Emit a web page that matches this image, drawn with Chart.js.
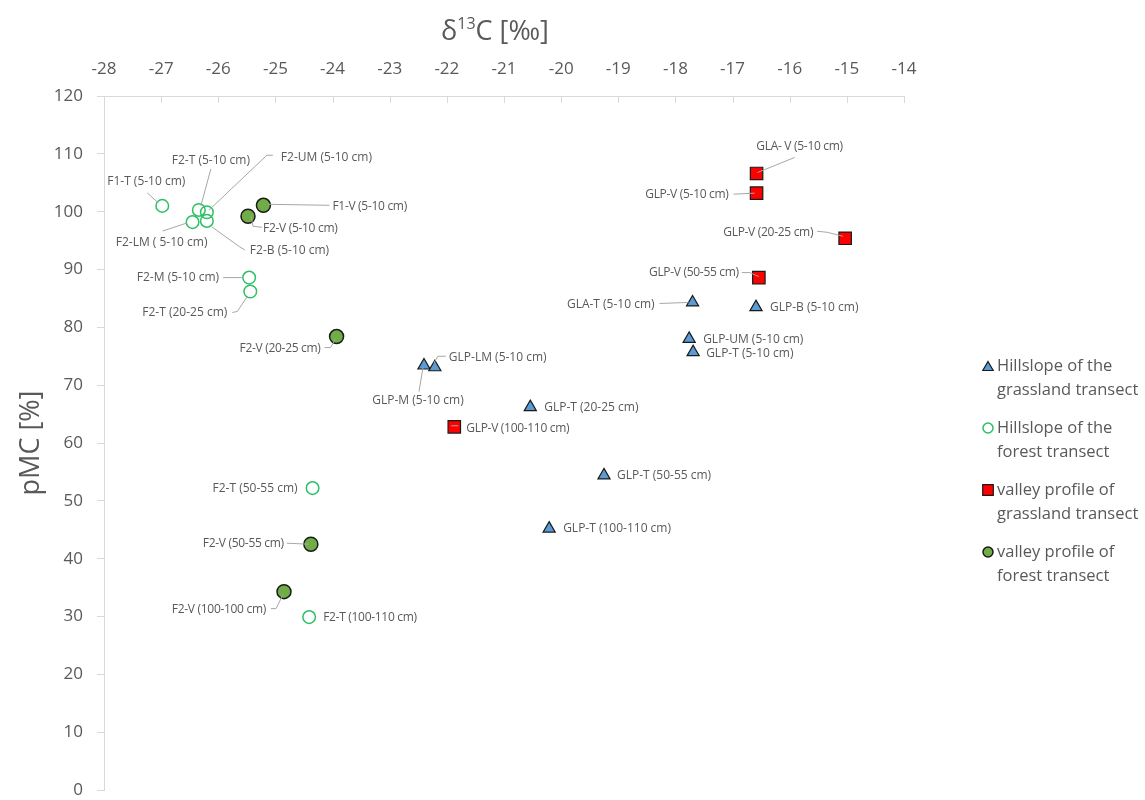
<!DOCTYPE html>
<html>
<head>
<meta charset="utf-8">
<script src="https://cdn.jsdelivr.net/npm/chart.js@4.4.1/dist/chart.umd.min.js"></script>
<style>
  html, body { margin: 0; padding: 0; background: #fff; }
  #wrap { width: 1145px; height: 800px; position: relative; }
</style>
</head>
<body>
<div id="wrap"><canvas id="isoChart"></canvas></div>
<script>
// x = delta13C [permil], y = pMC [%]

// Hillslope of the grassland transect
const glHillNames = ["GLP-M (5-10 cm)", "GLP-LM (5-10 cm)", "GLP-T (20-25 cm)", "GLP-T (50-55 cm)", "GLP-T (100-110 cm)",
  "GLA-T (5-10 cm)", "GLP-B (5-10 cm)", "GLP-UM (5-10 cm)", "GLP-T (5-10 cm)"];
const glHillD13C = [-22.40, -22.21, -20.54, -19.25, -20.21, -17.70, -16.59, -17.76, -17.69];
const glHillPMC = [73.4, 73.1, 66.2, 54.4, 45.2, 84.3, 83.5, 78.0, 75.7];

// Hillslope of the forest transect
const fHillNames = ["F1-T (5-10 cm)", "F2-T (5-10 cm)", "F2-UM (5-10 cm)", "F2-LM ( 5-10 cm)", "F2-B (5-10 cm)",
  "F2-M (5-10 cm)", "F2-T (20-25 cm)", "F2-T (50-55 cm)", "F2-T (100-110 cm)"];
const fHillD13C = [-26.98, -26.34, -26.20, -26.45, -26.20, -25.46, -25.44, -24.35, -24.41];
const fHillPMC = [101.0, 100.3, 99.9, 98.2, 98.4, 88.6, 86.2, 52.2, 29.9];

// valley profile of grassland transect
const glValleyNames = ["GLA- V (5-10 cm)", "GLP-V (5-10 cm)", "GLP-V (20-25 cm)", "GLP-V (50-55 cm)", "GLP-V (100-110 cm)"];
const glValleyD13C = [-16.58, -16.58, -15.03, -16.54, -21.87];
const glValleyPMC = [106.6, 103.2, 95.4, 88.6, 62.8];

// valley profile of forest transect
const fValleyNames = ["F1-V (5-10 cm)", "F2-V (5-10 cm)", "F2-V (20-25 cm)", "F2-V (50-55 cm)", "F2-V (100-100 cm)"];
const fValleyD13C = [-25.21, -25.48, -23.93, -24.38, -24.85];
const fValleyPMC = [101.1, 99.2, 78.4, 42.5, 34.3];

const xTicks = [-28, -27, -26, -25, -24, -23, -22, -21, -20, -19, -18, -17, -16, -15, -14];
const yTicks = [0, 10, 20, 30, 40, 50, 60, 70, 80, 90, 100, 110, 120];

// label placement in px relative to the point: [dx, dy, align, leader line points, condensed]
const glHillPlace = [
  [-6, 35, "center", [[-5, 26], [-1, 2]]],
  [14, -10, "left", [[11, -11], [3, -11], [-1, -4]]],
  [14, 0, "left"],
  [13, 0, "left"],
  [14, 0, "left"],
  [-38, 2, "right", [[-33, 1], [-4, 0]]],
  [14, 0, "left"],
  [14, 1, "left"],
  [13, 1, "left"]
];
const fHillPlace = [
  [-16, -24, "center", [[-15, -13], [-4, -3]]],
  [12, -49, "center", [[12, -41], [2, -4]]],
  [74, -55, "left", [[66, -57], [60, -57], [2, -2]]],
  [-31, 21, "center", [[-30, 9], [-6, 1]]],
  [43, 30, "left", [[38, 29], [33, 26], [5, 6]]],
  [-30, 0, "right", [[-26, 0], [-6, 0]]],
  [-23, 21, "right", [[-18, 21], [-13, 20], [-3, 5]]],
  [-15, 0, "right"],
  [14, 0, "left", null, true]
];
const glValleyPlace = [
  [43, -27, "center", [[38, -16], [1, -1]], true],
  [-28, 1, "right", [[-23, 1], [-2, 0]], true],
  [-32, -6, "right", [[-28, -7], [-18, -6], [-2, -2]], true],
  [-20, -5, "right", [[-17, -5], [-9, -5], [0, -1]], true],
  [12, 2, "left", [[-3, -1], [4, -1]], true]
];
const fValleyPlace = [
  [69, 1, "left", [[5, -1], [66, 0]], true],
  [15, 12, "left", [[3, 0], [5, 10], [14, 11]], true],
  [-16, 12, "right", [[-12, 11], [-6, 11], [-1, 2]], true],
  [-27, -1, "right", [[-24, -1], [-2, 0]], true],
  [-18, 18, "right", [[-13, 17], [-8, 17], [-1, 3]], true]
];

const textGray = "#595959";
const axisGray = "#d9d9d9";
const fontFam = "'Open Sans', 'Noto Sans', sans-serif";

function pts(xs, ys) {
  return xs.map((x, i) => ({ x: x, y: ys[i] }));
}

const datasets = [
  {
    label: "Hillslope of the\ngrassland transect",
    data: pts(glHillD13C, glHillPMC),
    names: glHillNames, place: glHillPlace,
    pointStyle: "triangle", pointRadius: 7,
    backgroundColor: "#5b9bd5", borderColor: "#1a1a1a", borderWidth: 1.2,
    legendRadius: 6
  },
  {
    label: "Hillslope of the\nforest transect",
    data: pts(fHillD13C, fHillPMC),
    names: fHillNames, place: fHillPlace,
    pointStyle: "circle", pointRadius: 6.3,
    backgroundColor: "rgba(255,255,255,0)", borderColor: "#2cc065", borderWidth: 1.5,
    legendRadius: 5
  },
  {
    label: "valley profile of\ngrassland transect",
    data: pts(glValleyD13C, glValleyPMC),
    names: glValleyNames, place: glValleyPlace,
    pointStyle: "rect", pointRadius: 8.8,
    backgroundColor: "#ff0000", borderColor: "#1a1a1a", borderWidth: 1.2,
    legendRadius: 7.5
  },
  {
    label: "valley profile of\nforest transect",
    data: pts(fValleyD13C, fValleyPMC),
    names: fValleyNames, place: fValleyPlace,
    pointStyle: "circle", pointRadius: 7,
    backgroundColor: "#70ad47", borderColor: "#1a1a1a", borderWidth: 1.5,
    legendRadius: 5
  }
];
datasets.forEach(d => { d.pointHoverRadius = d.pointRadius; });

// point labels with leader lines
const pointLabels = {
  id: "pointLabels",
  afterDatasetsDraw(chart) {
    const ctx = chart.ctx;
    ctx.save();
    ctx.font = "12px " + fontFam;
    ctx.textBaseline = "middle";
    chart.data.datasets.forEach((ds, di) => {
      const meta = chart.getDatasetMeta(di);
      meta.data.forEach((el, i) => {
        const p = ds.place[i];
        if (!p) return;
        const lead = p[3];
        if (lead) {
          ctx.strokeStyle = "#a6a6a6";
          ctx.lineWidth = 1;
          ctx.beginPath();
          lead.forEach((q, k) => {
            if (k === 0) ctx.moveTo(el.x + q[0], el.y + q[1]);
            else ctx.lineTo(el.x + q[0], el.y + q[1]);
          });
          ctx.stroke();
        }
        ctx.fillStyle = textGray;
        ctx.textAlign = p[2];
        ctx.letterSpacing = p[4] ? "-0.3px" : "0px";
        ctx.fillText(ds.names[i], el.x + p[0], el.y + p[1]);
      });
    });
    ctx.restore();
  }
};

// x axis title with superscript, tick marks under the top axis, legend on the right
const extras = {
  id: "extras",
  afterDraw(chart) {
    const ctx = chart.ctx;
    const xs = chart.scales.x;
    ctx.save();
    // tick marks
    ctx.strokeStyle = axisGray;
    ctx.lineWidth = 1;
    ctx.beginPath();
    xs.ticks.forEach((t, i) => {
      const px = Math.round(xs.getPixelForTick(i)) + 0.5;
      ctx.moveTo(px, xs.bottom);
      ctx.lineTo(px, xs.bottom + 7);
    });
    ctx.stroke();

    // title
    ctx.fillStyle = textGray;
    ctx.textBaseline = "alphabetic";
    const big = "27px " + fontFam, small = "16px " + fontFam;
    ctx.font = big;
    const wA = ctx.measureText("\u03b4").width;
    const wC = ctx.measureText("C [\u2030]").width;
    ctx.font = small;
    const wS = ctx.measureText("13").width;
    const total = wA + wS + wC;
    let tx = (xs.left + xs.right) / 2 - 9 - total / 2;
    const base = 40;
    ctx.textAlign = "left";
    ctx.font = big;
    ctx.fillText("\u03b4", tx, base);
    tx += wA;
    ctx.font = small;
    ctx.fillText("13", tx, base - 11);
    tx += wS;
    ctx.font = big;
    ctx.fillText("C [\u2030]", tx, base);

    // legend
    const legendY = [366, 428, 490, 552];
    ctx.font = "16.5px " + fontFam;
    ctx.textBaseline = "middle";
    chart.data.datasets.forEach((ds, di) => {
      const y = legendY[di];
      ctx.fillStyle = ds.backgroundColor;
      ctx.strokeStyle = ds.borderColor;
      ctx.lineWidth = ds.borderWidth;
      Chart.helpers.drawPoint(ctx, {
        pointStyle: ds.pointStyle, radius: ds.legendRadius, rotation: 0, borderWidth: ds.borderWidth
      }, 988, y + (ds.pointStyle === "triangle" ? 1.5 : 0));
      ctx.fillStyle = textGray;
      ctx.textAlign = "left";
      ds.label.split("\n").forEach((line, li) => {
        ctx.fillText(line, 997, y + li * 24);
      });
    });
    ctx.restore();
  }
};

new Chart(document.getElementById("isoChart"), {
  type: "scatter",
  data: { datasets },
  options: {
    responsive: true,
    maintainAspectRatio: false,
    animation: false,
    events: [],
    layout: { padding: { left: 0, top: 0, right: 241, bottom: 7 } },
    plugins: {
      legend: { display: false },
      tooltip: { enabled: false }
    },
    scales: {
      x: {
        type: "linear",
        position: "top",
        min: -28,
        max: -14,
        afterBuildTicks: s => { s.ticks = xTicks.map(v => ({ value: v })); },
        afterFit: s => { s.height = 96; s.paddingLeft = 0; s.paddingRight = 0; },
        grid: { display: false, drawTicks: false },
        border: { display: true, color: axisGray, width: 1 },
        ticks: { color: textGray, font: { size: 17, family: fontFam }, padding: 17, maxRotation: 0 }
      },
      y: {
        type: "linear",
        position: "left",
        min: 0,
        max: 120,
        afterBuildTicks: s => { s.ticks = yTicks.map(v => ({ value: v })); },
        afterFit: s => { s.width = 104; s.paddingTop = 0; s.paddingBottom = 0; },
        grid: { display: true, drawOnChartArea: false, drawTicks: true, tickLength: 7, color: axisGray },
        border: { display: true, color: axisGray, width: 1 },
        ticks: { color: textGray, font: { size: 17, family: fontFam }, padding: 14 },
        title: {
          display: true,
          text: "pMC [%]",
          color: textGray,
          font: { size: 27, family: fontFam },
          padding: { top: 15, bottom: 0 }
        }
      }
    }
  },
  plugins: [pointLabels, extras]
});
</script>
</body>
</html>
